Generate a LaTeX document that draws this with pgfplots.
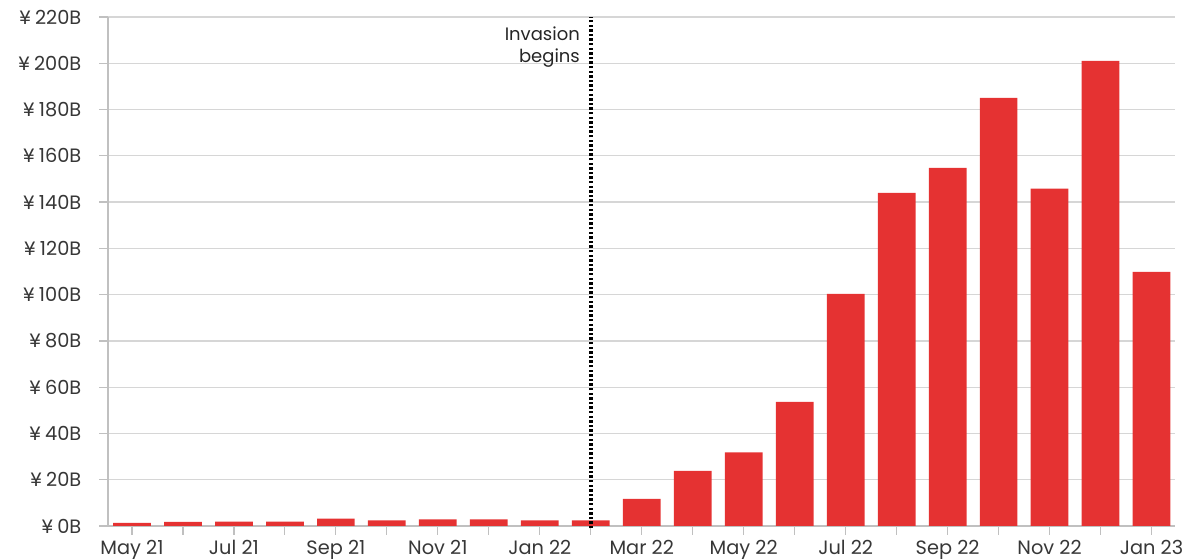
\documentclass[border=0pt]{standalone}
\usepackage{pgfplots}
\pgfplotsset{compat=1.18}
\usetikzlibrary{calc}
\usepackage{fontspec}
\setmainfont{Poppins}
\definecolor{barred}{RGB}{229,50,50}
\definecolor{txt}{RGB}{55,55,55}
\definecolor{gridc}{RGB}{214,214,214}
\definecolor{axc}{RGB}{192,192,192}
\newcommand{\yen}{¥\hspace{0.22em}}
\begin{document}
\begin{tikzpicture}
\begin{axis}[
  name=ax,
  scale only axis, width=800.25pt, height=381.75pt,
  xmin=-0.47, xmax=20.46, ymin=0, ymax=220,
  axis x line*=bottom, axis y line*=left,
  axis line style={-, axc, line width=0.9pt},
  ytick={0,20,...,220},
  yticklabels={\yen 0B,\yen 20B,\yen 40B,\yen 60B,\yen 80B,\yen 100B,\yen 120B,\yen 140B,\yen 160B,\yen 180B,\yen 200B,\yen 220B},
  xtick={0,...,20},
  xticklabels={May 21,,Jul 21,,Sep 21,,Nov 21,,Jan 22,,Mar 22,,May 22,,Jul 22,,Sep 22,,Nov 22,,Jan 23},
  tick align=outside, major tick length=6.5pt,
  tick style={axc, line width=0.9pt},
  ymajorgrids, grid style={gridc, line width=0.9pt},
  ticklabel style={font=\fontsize{14.5}{17}\selectfont, text=txt},
  yticklabel style={xshift=-10pt},
  xticklabel style={yshift=-0.5pt},
  clip=false,
]
\addplot[ybar, bar width=28.3pt, fill=barred, draw=none] coordinates {
(0,1.3) (1,1.8) (2,1.9) (3,1.9) (4,3.2) (5,2.4) (6,2.9) (7,2.9) (8,2.4) (9,2.4)
(10,11.7) (11,23.8) (12,31.8) (13,53.7) (14,100.3) (15,144.0) (16,154.8) (17,185.0) (18,145.8) (19,201.0) (20,109.8)
};
\draw[black, line width=2.6pt, dash pattern=on 1.7pt off 1.75pt] (axis cs:9,-1) -- (axis cs:9,220);
\node[anchor=north east, align=right, inner sep=0pt, font=\fontsize{13.5}{17}\selectfont, text=black!85, xshift=-8pt, yshift=-7pt] at (axis cs:9,220) {Invasion\\begins};
\end{axis}
\pgfresetboundingbox
\path[use as bounding box] ($(ax.south west)+(-81pt,-24.75pt)$) rectangle ($(ax.north east)+(12pt,12.75pt)$);
\end{tikzpicture}
\end{document}
